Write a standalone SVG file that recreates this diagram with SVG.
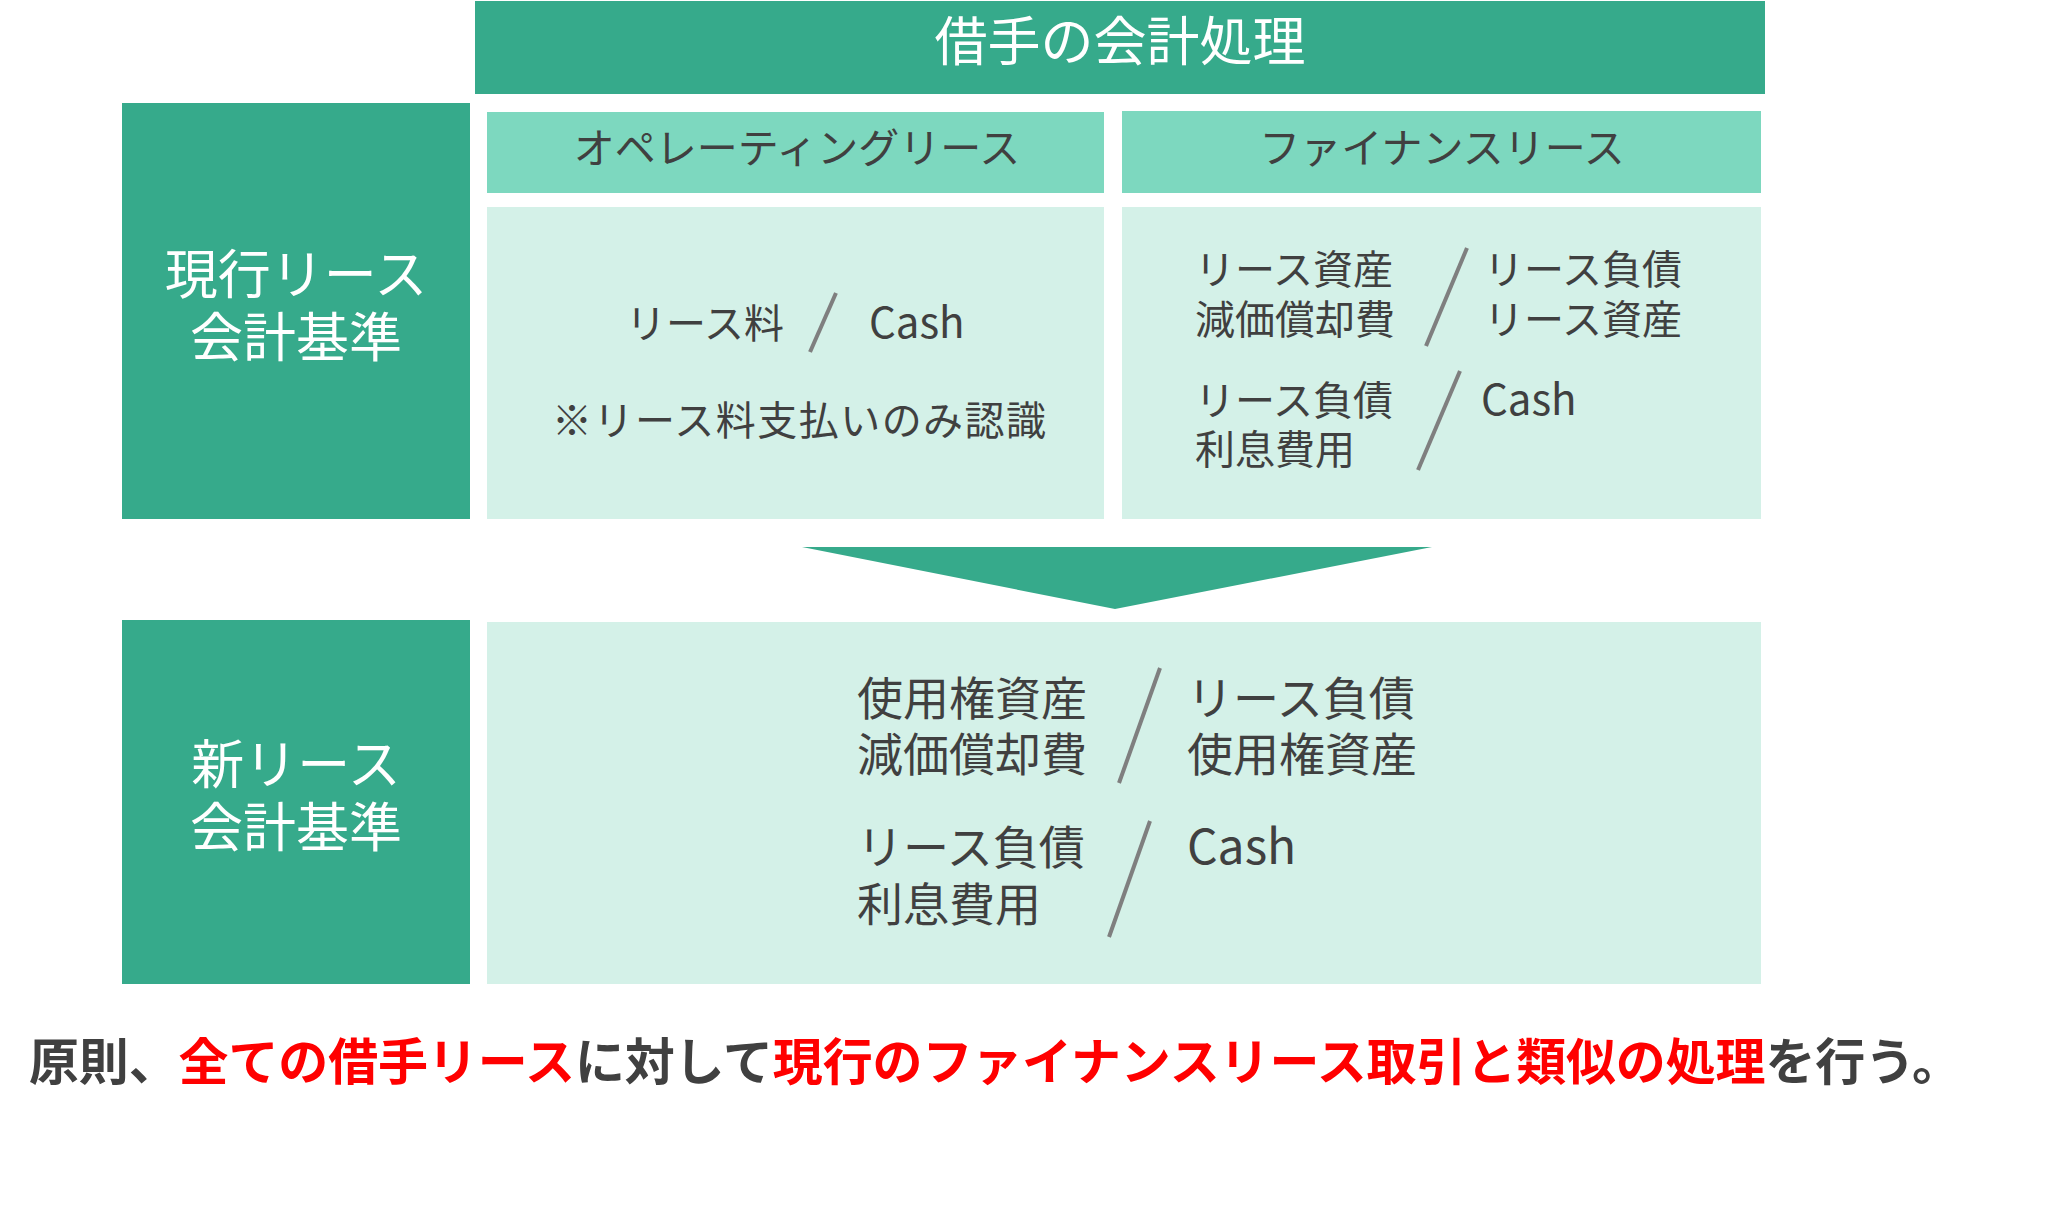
<svg xmlns="http://www.w3.org/2000/svg" width="2048" height="1209" viewBox="0 0 2048 1209">
<style>
.dark{fill:#36AA8B}
.head{fill:#7DD8BF}
.body{fill:#D4F1E8}
.t{font-family:"Noto Sans CJK JP","Noto Sans",sans-serif;fill:#404040}
.w{font-family:"Noto Sans CJK JP","Noto Sans",sans-serif;fill:#FFFFFF}
.sl{stroke:#7F7F7F;stroke-width:4;fill:none}
.red{fill:#FF0000}
</style>
<rect width="2048" height="1209" fill="#FFFFFF"/>
<g id="title">
<rect class="dark" x="475" y="1" width="1290" height="93"/>
<text class="w" x="1120" y="61" font-size="53" text-anchor="middle">借手の会計処理</text>
</g>
<g id="current-label">
<rect class="dark" x="122" y="103" width="348" height="416"/>
<text class="w" font-size="53" text-anchor="middle"><tspan x="296" y="294">現行リース</tspan><tspan x="296" y="357">会計基準</tspan></text>
</g>
<g id="operating-header">
<rect class="head" x="487" y="112" width="617" height="81"/>
<text class="t" x="797" y="163" font-size="41" text-anchor="middle">オペレーティングリース</text>
</g>
<g id="finance-header">
<rect class="head" x="1122" y="111" width="639" height="82"/>
<text class="t" x="1442" y="163" font-size="41" text-anchor="middle">ファイナンスリース</text>
</g>
<g id="operating-body">
<rect class="body" x="487" y="207" width="617" height="312"/>
<text class="t" x="626" y="338" font-size="40">リース料</text>
<text class="t" x="869" y="338" font-size="42">Cash</text>
<text class="t" x="552" y="435" font-size="40" textLength="494" lengthAdjust="spacing">※リース料支払いのみ認識</text>
</g>
<g id="finance-body">
<rect class="body" x="1122" y="207" width="639" height="312"/>
<text class="t" font-size="40"><tspan x="1195" y="284">リース資産</tspan><tspan x="1195" y="334">減価償却費</tspan></text>
<text class="t" font-size="40"><tspan x="1484" y="284">リース負債</tspan><tspan x="1484" y="334">リース資産</tspan></text>
<text class="t" font-size="40"><tspan x="1195" y="415">リース負債</tspan><tspan x="1195" y="464">利息費用</tspan></text>
<text class="t" x="1481" y="415" font-size="42">Cash</text>
</g>
<g id="arrow">
<polygon class="dark" points="802,547 1432,547 1115,609"/>
</g>
<g id="new-label">
<rect class="dark" x="122" y="620" width="348" height="364"/>
<text class="w" font-size="53" text-anchor="middle"><tspan x="296" y="784">新リース</tspan><tspan x="296" y="847">会計基準</tspan></text>
</g>
<g id="new-body">
<rect class="body" x="487" y="622" width="1274" height="362"/>
<text class="t" font-size="46"><tspan x="857" y="715">使用権資産</tspan><tspan x="857" y="771">減価償却費</tspan></text>
<text class="t" font-size="46"><tspan x="1187" y="715">リース負債</tspan><tspan x="1187" y="771">使用権資産</tspan></text>
<text class="t" font-size="46"><tspan x="857" y="864">リース負債</tspan><tspan x="857" y="921">利息費用</tspan></text>
<text class="t" x="1187" y="864" font-size="48">Cash</text>
</g>
<g id="connectors">
<line class="sl" x1="836" y1="293" x2="810" y2="352"/>
<line class="sl" x1="1467" y1="248" x2="1426" y2="346"/>
<line class="sl" x1="1460" y1="371" x2="1418" y2="470"/>
<line class="sl" x1="1160" y1="668" x2="1119" y2="783"/>
<line class="sl" x1="1150" y1="821" x2="1109" y2="937"/>
</g>
<g id="summary">
<text x="29" y="1080" font-size="50" font-weight="bold" font-family="'Noto Sans CJK JP','Noto Sans',sans-serif" fill="#404040" textLength="1933" lengthAdjust="spacing">原則、<tspan class="red">全ての借手リース</tspan>に対して<tspan class="red">現行のファイナンスリース取引と類似の処理</tspan>を行う。</text>
</g>
</svg>
